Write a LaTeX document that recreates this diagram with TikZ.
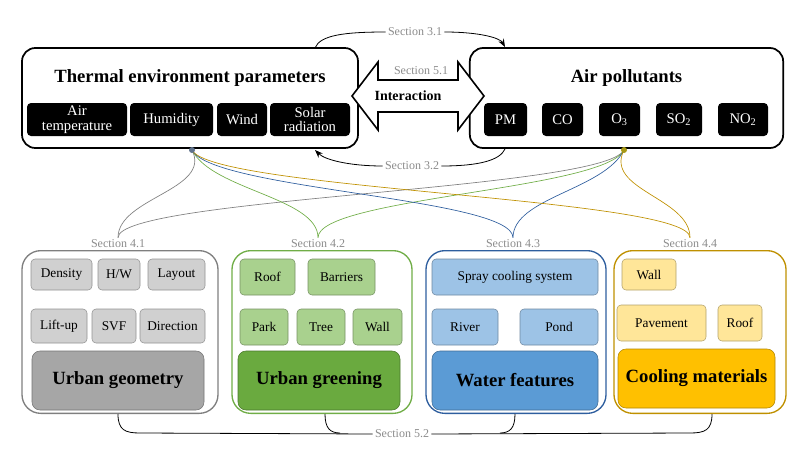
\documentclass[tikz,border=0pt]{standalone}
\usepackage{fontspec}
\setmainfont{Liberation Serif}
\usetikzlibrary{arrows.meta,calc}
\definecolor{gD}{HTML}{A6A6A6}\definecolor{gL}{HTML}{D0D0D0}\definecolor{gB}{HTML}{7F7F7F}
\definecolor{nD}{HTML}{6AAA3F}\definecolor{nL}{HTML}{A9D18E}\definecolor{nB}{HTML}{70AD47}
\definecolor{bD}{HTML}{5B9BD5}\definecolor{bL}{HTML}{9DC3E6}\definecolor{bB}{HTML}{2E5E9E}
\definecolor{yD}{HTML}{FFC000}\definecolor{yL}{HTML}{FFE699}\definecolor{yB}{HTML}{BF9000}
\definecolor{sec}{HTML}{8C8C8C}
\begin{document}
\begin{tikzpicture}[x=0.75pt,y=-0.75pt,
 box/.style={draw,rounded corners=10pt,line width=1.3pt},
 blk/.style={fill=black,text=white,rounded corners=3pt,font=\fontsize{11}{11}\selectfont,align=center,inner sep=0pt},
 it/.style={rounded corners=3pt,draw=#1!70!black,line width=0.4pt,font=\fontsize{10}{11}\selectfont,inner sep=0pt},
 big/.style={rounded corners=6pt,draw=#1!70!black,line width=0.4pt,font=\bfseries\fontsize{14}{15}\selectfont,inner sep=0pt},
 grp/.style={draw=#1,rounded corners=14pt,line width=1pt},
 seclab/.style={text=sec,font=\fontsize{9}{9}\selectfont,fill=white,inner sep=1.5pt},
 fan/.style={line width=0.5pt}]
\useasboundingbox (0,0) rectangle (807,450);
\newcommand{\bx}[5]{\node[#5,minimum width={(#3-#2)*0.75pt},minimum height={(#4)*0.75pt}] at ({(#2+#3)/2},#1)}
% top boxes
\node[box,minimum width=252pt,minimum height=75pt] (T) at (190,98) {};
\node[font=\bfseries\fontsize{14}{15}\selectfont] at (190,78) {Thermal environment parameters};
\node[box,minimum width=235pt,minimum height=75pt] (P) at (626.5,98) {};
\node[font=\bfseries\fontsize{14}{15}\selectfont] at (626.5,78) {Air pollutants};
\bx{119.5}{27}{127}{33}{blk} (t1) {Air\\temperature};
\bx{119.5}{130}{213}{33}{blk} (t2) {Humidity};
\bx{119.5}{217}{267}{33}{blk} (t3) {Wind};
\bx{119.5}{270}{350}{33}{blk} (t4) {Solar\\radiation};
\bx{119.5}{484}{527}{33}{blk} (p1) {PM};
\bx{119.5}{542}{583}{33}{blk} (p2) {CO};
\bx{119.5}{599}{640}{33}{blk} (p3) {O\textsubscript{3}};
\bx{119.5}{656}{702}{33}{blk} (p4) {SO\textsubscript{2}};
\bx{119.5}{718}{768}{33}{blk} (p5) {NO\textsubscript{2}};
% interaction arrow
\draw[line width=1.2pt,fill=white,line join=miter] (352,96) -- (378,62) -- (378,80) -- (458,80) -- (458,62) -- (484,96) -- (458,130) -- (458,112) -- (378,112) -- (378,130) -- cycle;
\node[font=\bfseries\fontsize{10.5}{11}\selectfont] (ia) at (408,96) {Interaction};
\node[seclab,fill=none] (s51) at (421,71) {Section 5.1};
% sections 3.1 / 3.2
\node[seclab] (s31) at (415,32) {Section 3.1};
\node[seclab] (s32) at (412,166) {Section 3.2};
\draw[line width=0.6pt] (315,48) .. controls (320,35) and (345,32) .. (s31.west);
\draw[line width=0.6pt,-{Stealth[length=6pt]}] (s31.east) .. controls (480,32) and (500,38) .. (505,47);
\draw[line width=0.6pt] (505,149) .. controls (500,160) and (480,166) .. (s32.east);
\draw[line width=0.6pt,-{Stealth[length=6pt]}] (s32.west) .. controls (350,166) and (325,160) .. (315,150);
% groups
\node[grp=gB,minimum width=147pt,minimum height=122pt] (G1) at (120,332) {};
\node[grp=nB,minimum width=135pt,minimum height=122pt] (G2) at (322,332) {};
\node[grp=bB,minimum width=135pt,minimum height=122pt] (G3) at (516,332) {};
\node[grp=yB,minimum width=129pt,minimum height=122pt] (G4) at (700,332) {};
\node[seclab] (s41) at (118,244) {Section 4.1};
\node[seclab] (s42) at (318,244) {Section 4.2};
\node[seclab] (s43) at (513,244) {Section 4.3};
\node[seclab] (s44) at (690,244) {Section 4.4};
% group 1
\bx{274.5}{31}{92}{31}{it=gL,fill=gL} (a1) {Density};
\bx{274.5}{98}{140}{31}{it=gL,fill=gL} (a2) {H/W};
\bx{274.5}{148}{205}{31}{it=gL,fill=gL} (a3) {Layout};
\bx{326}{31}{87}{34}{it=gL,fill=gL} (a4) {Lift-up};
\bx{326}{92}{136}{34}{it=gL,fill=gL} (a5) {SVF};
\bx{326}{140}{205}{34}{it=gL,fill=gL} (a6) {Direction};
\bx{380.5}{32}{204}{59}{big=gD,fill=gD} (A) {Urban geometry};
% group 2
\bx{277}{240}{295}{36}{it=nL,fill=nL} (b1) {Roof};
\bx{277}{308}{375}{36}{it=nL,fill=nL} (b2) {Barriers};
\bx{327}{240}{288}{36}{it=nL,fill=nL} (b3) {Park};
\bx{327}{297}{345}{36}{it=nL,fill=nL} (b4) {Tree};
\bx{327}{353}{402}{36}{it=nL,fill=nL} (b5) {Wall};
\bx{380.5}{238}{400}{59}{big=nD,fill=nD} (B) {Urban greening};
% group 3
\bx{277}{432}{598}{36}{it=bL,fill=bL} (c1) {Spray cooling system};
\bx{327}{432}{498}{36}{it=bL,fill=bL} (c2) {River};
\bx{327}{520}{598}{36}{it=bL,fill=bL} (c3) {Pond};
\bx{380.5}{432}{598}{59}{big=bD,fill=bD} (C) {Water features};
% group 4
\bx{274.5}{622}{676}{31}{it=yL,fill=yL} (d1) {Wall};
\bx{323}{617}{706}{36}{it=yL,fill=yL} (d2) {Pavement};
\bx{323}{718}{762}{36}{it=yL,fill=yL} (d3) {Roof};
\bx{378.5}{618}{775}{59}{big=yD,fill=yD} (D) {Cooling materials};
% fan curves
\coordinate (L) at (192,150); \coordinate (R) at (624,150);
\foreach \c/\s in {gB/s41,nB/s42,bB/s43,yB/s44}{
 \draw[fan,draw=\c] (\s.north) .. controls ($(\s.north)+(0,-40)$) and ($(L)+(20,40)$) .. (L);
 \draw[fan,draw=\c] (\s.north) .. controls ($(\s.north)+(0,-40)$) and ($(R)+(-20,40)$) .. (R);
}
\fill[gB!60!bB] (L) circle (3);
\fill[yB!70!nB] (R) circle (3);
% section 5.2
\node[seclab] (s52) at (402,434) {Section 5.2};
\coordinate (e1) at (118,414);\coordinate (e2) at (325,414);\coordinate (e3) at (515,414);\coordinate (e4) at (712,414);
\draw[line width=0.6pt] (e1) .. controls (118,430) and (125,433) .. (140,433) -- (s52.west);
\draw[line width=0.6pt] (e2) .. controls (325,428) and (330,433) .. (340,433);
\draw[line width=0.6pt] (e3) .. controls (515,428) and (510,433) .. (500,433);
\draw[line width=0.6pt] (e4) .. controls (712,430) and (705,433) .. (690,433) -- (s52.east);
\end{tikzpicture}
\end{document}
